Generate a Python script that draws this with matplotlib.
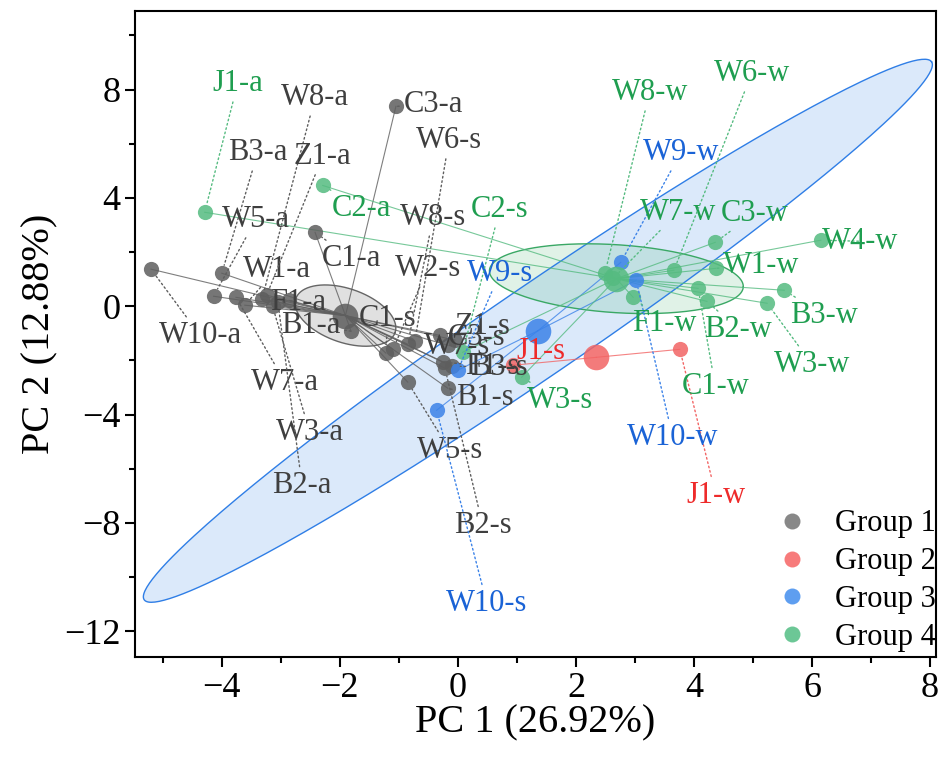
import numpy as np
import matplotlib.pyplot as plt
from matplotlib.lines import Line2D
from matplotlib.ticker import MultipleLocator

plt.rcParams['font.family'] = ['Liberation Serif', 'DejaVu Serif']

# sample scores (PC1, PC2), group and label position
names = ['W10-a', 'B3-a', 'W5-a', 'W7-a', 'W1-a', 'W8-a', 'Z1-a', 'W3-a', 'B2-a', 'F1-a',
         'C1-a', 'C3-a', 'B1-a',
         'C1-s', 'W2-s', 'W8-s', 'W6-s', 'Z1-s', 'W7-s', 'C3-s', 'B3-s', 'F1-s', 'B1-s',
         'B2-s', 'W5-s',
         'J1-s', 'J1-w',
         'W9-s', 'W10-s', 'W9-w', 'W10-w',
         'J1-a', 'C2-a', 'C2-s', 'W3-s', 'W8-w', 'W7-w', 'F1-w', 'C1-w', 'B2-w', 'W3-w',
         'B3-w', 'W1-w', 'W6-w', 'C3-w', 'W4-w']
pc1 = [-5.20, -4.00, -4.14, -3.76, -3.61, -3.32, -3.24, -3.14, -3.05, -2.86,
       -2.42, -1.05, -1.81,
       -1.22, -1.10, -0.85, -0.73, -0.31, -0.17, -0.05, -0.10, -0.25, -0.17,
       -0.22, -0.85,
       0.93, 3.76,
       0.00, -0.36, 2.76, 3.02,
       -4.29, -2.29, 0.08, 1.08, 2.49, 2.63, 2.97, 4.07, 4.22, 5.24,
       5.53, 4.37, 3.66, 4.36, 6.15]
pc2 = [1.37, 1.22, 0.37, 0.33, 0.04, 0.26, 0.41, 0.00, 0.15, 0.22,
       2.73, 7.38, -0.92,
       -1.73, -1.59, -1.40, -1.29, -1.07, -1.44, -1.25, -2.21, -2.07, -3.03,
       -2.29, -2.80,
       -2.18, -1.59,
       -2.36, -3.84, 1.62, 0.96,
       3.47, 4.46, -1.70, -2.62, 1.22, 1.03, 0.33, 0.66, 0.18, 0.11,
       0.59, 1.40, 1.33, 2.36, 2.44]
group = [1] * 25 + [2] * 2 + [3] * 4 + [4] * 15
lab_x = [-4.37, -3.39, -3.42, -2.93, -3.07, -2.42, -2.29, -2.51, -2.64, -2.71,
         -1.81, -0.42, -2.49,
         -1.19, -0.51, -0.42, -0.15, 0.42, -0.02, 0.31, 0.69, 0.58, 0.46,
         0.42, -0.14,
         1.41, 4.37,
         0.71, 0.49, 3.78, 3.64,
         -3.73, -1.64, 0.71, 1.73, 3.25, 3.73, 3.49, 4.36, 4.75, 6.00,
         6.20, 5.14, 4.98, 5.03, 6.81]
lab_y = [-1.07, 5.68, 3.21, -2.80, 1.37, 7.71, 5.54, -4.65, -6.61, 0.15,
         1.77, 7.45, -0.70,
         -0.44, 1.40, 3.28, 6.13, -0.74, -1.48, -1.14, -2.25, -2.21, -3.36,
         -8.08, -5.31,
         -1.66, -6.97,
         1.22, -10.96, 5.68, -4.83,
         8.23, 3.62, 3.58, -3.47, 7.90, 3.47, -0.63, -2.95, -0.85, -2.14,
         -0.33, 1.51, 8.60, 3.43, 2.40]

groups = [1, 2, 3, 4]
group_names = ['Group 1', 'Group 2', 'Group 3', 'Group 4']
pt_col = {1: '#5e5e5e', 2: '#f26464', 3: '#3b82e8', 4: '#55bb80'}
txt_col = {1: '#3f3f3f', 2: '#ee2a2a', 3: '#1a63d6', 4: '#1f9e50'}
leg_col = {1: '#888888', 2: '#f77b7b', 3: '#5e9ef0', 4: '#6cc796'}

# ellipse semi-axes (data units)
ell_u = {3: (6.67, 9.93), 4: (2.15, -0.31), 1: (0.84, -0.63)}
ell_v = {3: (0.43, -1.37), 4: (0.04, 1.25), 1: (0.15, 0.94)}
ell_edge = {3: '#2f7ee6', 4: '#3aa865', 1: '#666666'}
ell_face = {3: ('#3a88e8', 0.18), 4: ('#2fae5f', 0.15), 1: ('#9a9a9a', 0.3)}

pc1 = np.array(pc1)
pc2 = np.array(pc2)
group = np.array(group)

fig = plt.figure(figsize=(9.39, 7.6), dpi=100)
ax = fig.add_axes([0.1438, 0.1355, 0.8530, 0.8500])

cent = {g: (pc1[group == g].mean(), pc2[group == g].mean()) for g in groups}

t = np.linspace(0, 2 * np.pi, 300)
for g in [3, 4, 1]:
    cx, cy = cent[g]
    u, v = ell_u[g], ell_v[g]
    ex = cx + u[0] * np.cos(t) + v[0] * np.sin(t)
    ey = cy + u[1] * np.cos(t) + v[1] * np.sin(t)
    ax.fill(ex, ey, color=ell_face[g][0], alpha=ell_face[g][1], lw=0, zorder=1)
    ax.plot(ex, ey, color=ell_edge[g], lw=1.0, zorder=1.5)

# spider lines from group centroid
for x, y, g in zip(pc1, pc2, group):
    cx, cy = cent[g]
    ax.plot([cx, x], [cy, y], color=pt_col[g], lw=0.8, alpha=0.8, zorder=2)

for g in groups:
    m = group == g
    ax.scatter(pc1[m], pc2[m], s=120, color=pt_col[g], alpha=0.85, lw=0, zorder=3)
    ax.scatter([cent[g][0]], [cent[g][1]], s=340, color=pt_col[g], alpha=0.85, lw=0, zorder=3)

for n, x, y, lx, ly, g in zip(names, pc1, pc2, lab_x, lab_y, group):
    ax.annotate(n, xy=(x, y), xytext=(lx, ly), ha='center', va='center',
                fontsize=22, color=txt_col[g], zorder=4,
                arrowprops=dict(arrowstyle='-', linestyle=(0, (1.2, 2.0)), color=pt_col[g],
                                lw=1.0, shrinkA=1, shrinkB=6))

ax.set_xlim(-5.47, 8.1)
ax.set_ylim(-12.95, 10.9)
ax.xaxis.set_major_locator(MultipleLocator(2))
ax.xaxis.set_minor_locator(MultipleLocator(1))
ax.yaxis.set_major_locator(MultipleLocator(4))
ax.yaxis.set_minor_locator(MultipleLocator(2))
ax.tick_params(which='both', direction='out', width=1.5, labelsize=26, top=False, right=False)
ax.tick_params(which='major', length=7)
ax.tick_params(which='minor', length=4)
for s in ax.spines.values():
    s.set_linewidth(1.5)

ax.set_xlabel('PC 1 (26.92%)', fontsize=29, labelpad=0)
ax.set_ylabel('PC 2 (12.88%)', fontsize=29, labelpad=4)

handles = [Line2D([], [], ls='', marker='o', ms=11.5, mec='none', mfc=leg_col[g]) for g in groups]
ax.legend(handles, group_names, loc='lower right', bbox_to_anchor=(1.03, -0.03), frameon=False,
          fontsize=22, handlelength=1.0, handletextpad=0.9, labelspacing=0.29, borderpad=0.3)

fig.savefig('out.png', dpi=100)
